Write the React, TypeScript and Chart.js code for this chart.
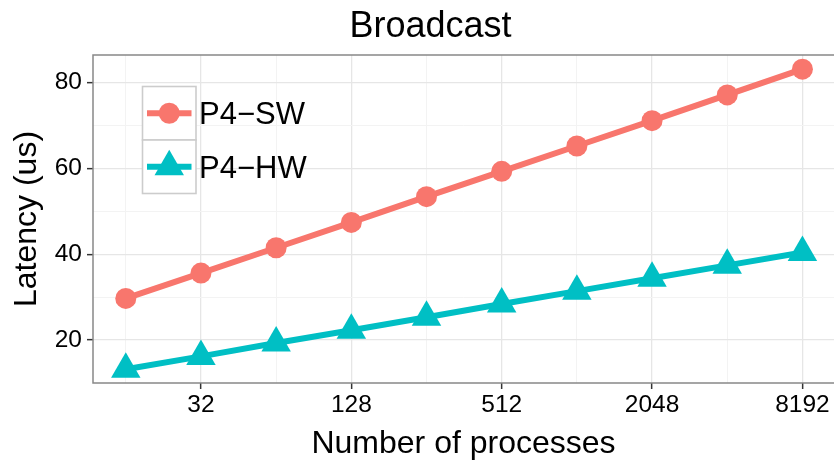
import React, { useEffect, useRef } from 'react';
import { Chart, registerables } from 'chart.js';

Chart.register(...registerables);

// ---- Data ----
const processCounts = [16, 32, 64, 128, 256, 512, 1024, 2048, 4096, 8192];
const swLatency = [29.7, 35.6, 41.5, 47.4, 53.4, 59.3, 65.2, 71.1, 77.1, 83.1];
const hwLatency = [13.2, 16.2, 19.3, 22.3, 25.3, 28.4, 31.4, 34.4, 37.4, 40.4];
const xMajorTicks = [32, 128, 512, 2048, 8192];
const xMinorTicks = [16, 64, 256, 1024, 4096];
const yMajorTicks = [20, 40, 60, 80];
const yMinorTicks = [30, 50, 70];
const seriesNames = ['P4\u2212SW', 'P4\u2212HW'];
const seriesColors = ['#F8766D', '#00BFC4'];
const chartTitle = 'Broadcast';
const xTitle = 'Number of processes';
const yTitle = 'Latency (us)';

const FONT = '"Liberation Sans", Arial, sans-serif';

const isMajor = (axis: 'x' | 'y', v: number) =>
  (axis === 'x' ? xMajorTicks : yMajorTicks).some((t) => Math.abs(t - v) < 1e-6);

const titlePlugin = {
  id: 'ggTitle',
  afterDraw(chart: any) {
    const ctx = chart.ctx;
    ctx.save();
    ctx.font = `36px ${FONT}`;
    ctx.fillStyle = '#000';
    ctx.textAlign = 'center';
    ctx.textBaseline = 'alphabetic';
    ctx.fillText(chartTitle, 430.5, 36.7);
    ctx.restore();
  },
};

const borderPlugin = {
  id: 'ggBorder',
  afterDatasetsDraw(chart: any) {
    const { ctx, chartArea } = chart;
    ctx.save();
    ctx.strokeStyle = '#888888';
    ctx.lineWidth = 1.5;
    ctx.beginPath();
    ctx.moveTo(chartArea.right, chartArea.top);
    ctx.lineTo(chartArea.left, chartArea.top);
    ctx.lineTo(chartArea.left, chartArea.bottom);
    ctx.lineTo(chartArea.right, chartArea.bottom);
    ctx.stroke();
    ctx.restore();
  },
};

const legendPlugin = {
  id: 'ggLegend',
  afterDraw(chart: any) {
    const ctx = chart.ctx;
    const x0 = 142.5;
    const y0 = 86.5;
    const key = 53.5;
    chart.data.datasets.forEach((ds: any, i: number) => {
      const top = y0 + i * key;
      const cx = x0 + key / 2;
      const cy = top + key / 2;
      ctx.save();
      ctx.fillStyle = '#ffffff';
      ctx.fillRect(x0, top, key, key);
      ctx.strokeStyle = '#cccccc';
      ctx.lineWidth = 1.6;
      ctx.strokeRect(x0, top, key, key);
      ctx.strokeStyle = ds.borderColor;
      ctx.lineWidth = 6;
      ctx.beginPath();
      ctx.moveTo(x0 + 4.5, cy);
      ctx.lineTo(x0 + key - 4.5, cy);
      ctx.stroke();
      ctx.fillStyle = ds.backgroundColor;
      ctx.beginPath();
      if (ds.pointStyle === 'triangle') {
        const r = 17;
        ctx.moveTo(cx, cy - r);
        ctx.lineTo(cx + r * Math.sin((2 * Math.PI) / 3), cy + r / 2);
        ctx.lineTo(cx - r * Math.sin((2 * Math.PI) / 3), cy + r / 2);
        ctx.closePath();
      } else {
        ctx.arc(cx, cy, 10.5, 0, Math.PI * 2);
      }
      ctx.fill();
      ctx.font = `31px ${FONT}`;
      ctx.fillStyle = '#000';
      ctx.textAlign = 'left';
      ctx.textBaseline = 'alphabetic';
      ctx.fillText(ds.label, 199, cy + 11);
      ctx.restore();
    });
  },
};

export default function App() {
  const canvasRef = useRef<HTMLCanvasElement | null>(null);

  useEffect(() => {
    document.body.style.margin = '0';
    const canvas = canvasRef.current;
    if (!canvas) return;

    const swData = processCounts.map((x, i) => ({ x, y: swLatency[i] }));
    const hwData = processCounts.map((x, i) => ({ x, y: hwLatency[i] }));
    const xAll = [...xMinorTicks, ...xMajorTicks].sort((a, b) => a - b);
    const yAll = [...yMinorTicks, ...yMajorTicks].sort((a, b) => a - b);

    const chart = new Chart(canvas, {
      type: 'line',
      data: {
        datasets: [
          {
            label: seriesNames[0],
            data: swData,
            borderColor: seriesColors[0],
            backgroundColor: seriesColors[0],
            borderWidth: 6,
            pointStyle: 'circle',
            pointRadius: 10.5,
            pointBorderWidth: 0,
            pointBackgroundColor: seriesColors[0],
            tension: 0,
          },
          {
            label: seriesNames[1],
            data: hwData,
            borderColor: seriesColors[1],
            backgroundColor: seriesColors[1],
            borderWidth: 6,
            pointStyle: 'triangle',
            pointRadius: 17,
            pointBorderWidth: 0,
            pointBackgroundColor: seriesColors[1],
            tension: 0,
          },
        ],
      },
      options: {
        responsive: false,
        animation: false,
        devicePixelRatio: 1,
        font: { family: FONT },
        layout: { padding: { top: 55, left: 0, right: 0, bottom: 0 }, autoPadding: false },
        plugins: {
          legend: { display: false },
          title: { display: false },
          tooltip: { enabled: false },
        },
        scales: {
          x: {
            type: 'logarithmic',
            position: 'bottom',
            bounds: 'data',
            min: Math.pow(2, 3.564),
            max: Math.pow(2, 13.42),
            afterBuildTicks: (scale: any) => {
              scale.ticks = xAll.map((v) => ({ value: v }));
            },
            afterFit: (scale: any) => {
              scale.height = 78;
            },
            ticks: {
              autoSkip: false,
              maxRotation: 0,
              minRotation: 0,
              padding: 2,
              color: '#000',
              font: { family: FONT, size: 24.5 },
              callback: (v: any) => (isMajor('x', Number(v)) ? String(v) : ''),
            },
            grid: {
              color: (c: any) => (c.tick && isMajor('x', c.tick.value) ? '#E6E6E6' : '#F3F3F3'),
              lineWidth: (c: any) => (c.tick && isMajor('x', c.tick.value) ? 1.3 : 1),
              tickLength: 6,
              tickColor: (c: any) => (c.tick && isMajor('x', c.tick.value) ? '#333333' : 'rgba(0,0,0,0)'),
              tickWidth: 1.5,
            },
            border: { display: false },
            title: {
              display: true,
              text: xTitle,
              color: '#000',
              font: { family: FONT, size: 32, lineHeight: 1 },
              padding: { top: 0, bottom: 1 },
            },
          },
          y: {
            type: 'linear',
            position: 'left',
            bounds: 'data',
            min: 10,
            max: 86.4,
            afterBuildTicks: (scale: any) => {
              scale.ticks = yAll.map((v) => ({ value: v }));
            },
            afterFit: (scale: any) => {
              scale.width = 93;
            },
            ticks: {
              autoSkip: false,
              padding: 5,
              color: '#000',
              font: { family: FONT, size: 24.5 },
              callback: (v: any) => (isMajor('y', Number(v)) ? String(v) : ''),
            },
            grid: {
              color: (c: any) => (c.tick && isMajor('y', c.tick.value) ? '#E6E6E6' : '#F3F3F3'),
              lineWidth: (c: any) => (c.tick && isMajor('y', c.tick.value) ? 1.3 : 1),
              tickLength: 6,
              tickColor: (c: any) => (c.tick && isMajor('y', c.tick.value) ? '#333333' : 'rgba(0,0,0,0)'),
              tickWidth: 1.5,
            },
            border: { display: false },
            title: {
              display: true,
              text: yTitle,
              color: '#000',
              font: { family: FONT, size: 32, lineHeight: 1.2 },
              padding: { top: 8, bottom: 0 },
            },
          },
        },
      } as any,
      plugins: [titlePlugin, borderPlugin, legendPlugin],
    });

    return () => {
      chart.destroy();
    };
  }, []);

  return (
    <div style={{ width: 834, height: 461, overflow: 'hidden' }}>
      <canvas ref={canvasRef} width={834} height={461} style={{ display: 'block', width: 834, height: 461 }} />
    </div>
  );
}
